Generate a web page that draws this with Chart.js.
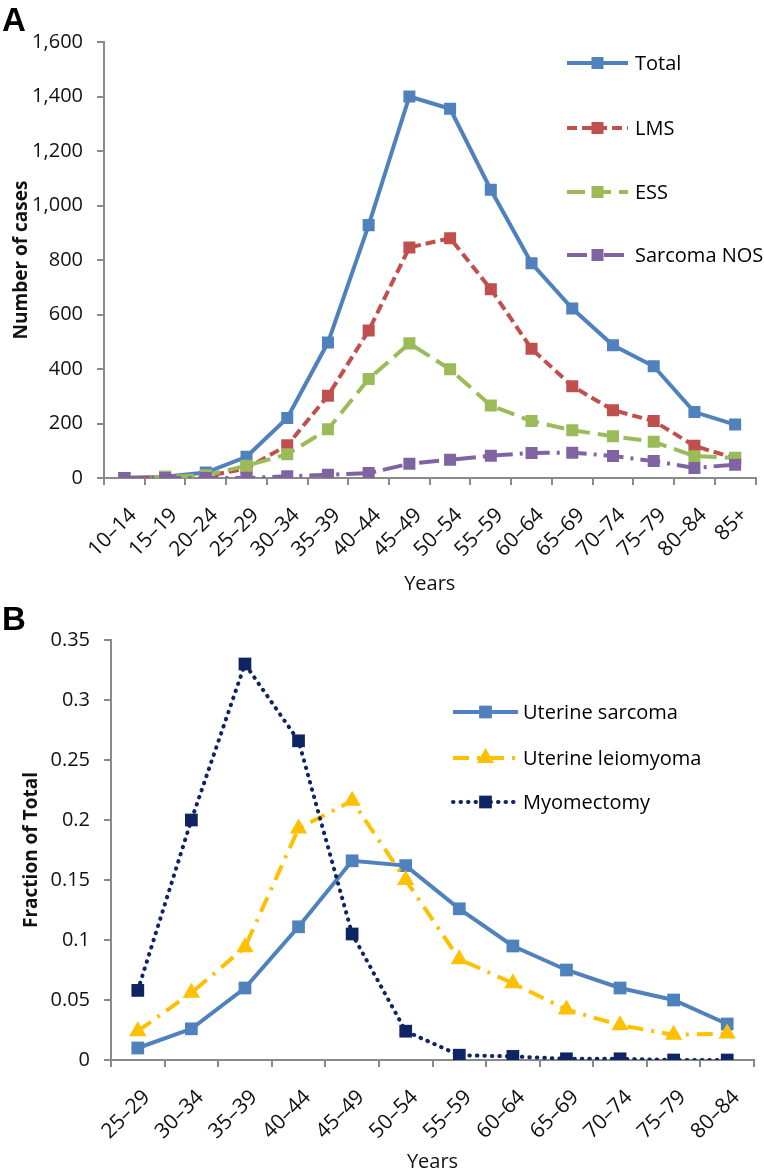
<!DOCTYPE html>
<html>
<head>
<meta charset="utf-8">
<script src="https://cdn.jsdelivr.net/npm/chart.js@4.4.0/dist/chart.umd.min.js"></script>
<style>
  body { margin: 0; background: #fff; }
  canvas { display: block; }
</style>
</head>
<body>
<canvas id="chartA" width="764" height="600"></canvas>
<canvas id="chartB" width="764" height="576"></canvas>
<script>
// panel A: number of cases by age group
const ageGroupsA = ['10–14', '15–19', '20–24', '25–29', '30–34', '35–39', '40–44', '45–49',
  '50–54', '55–59', '60–64', '65–69', '70–74', '75–79', '80–84', '85+'];
const totalCases = [0, 5, 20, 78, 220, 497, 928, 1400, 1355, 1058, 788, 622, 487, 410, 242, 196];
const lmsCases = [0, 2, 6, 35, 120, 302, 541, 846, 880, 693, 474, 337, 249, 209, 118, 72];
const essCases = [0, 4, 10, 45, 87, 179, 363, 494, 399, 266, 209, 175, 153, 133, 80, 74];
const nosCases = [0, 0, 0, 0, 6, 12, 18, 52, 67, 82, 92, 93, 81, 62, 37, 49];
const ticksA = { min: 0, max: 1600, step: 200 };

// panel B: fraction of total by age group
const ageGroupsB = ['25–29', '30–34', '35–39', '40–44', '45–49', '50–54', '55–59', '60–64',
  '65–69', '70–74', '75–79', '80–84'];
const sarcomaFrac = [0.010, 0.026, 0.060, 0.111, 0.166, 0.162, 0.126, 0.095, 0.075, 0.060, 0.050, 0.030];
const leiomyomaFrac = [0.024, 0.056, 0.094, 0.193, 0.216, 0.150, 0.084, 0.064, 0.042, 0.029, 0.021, 0.022];
const myomectomyFrac = [0.058, 0.200, 0.330, 0.266, 0.105, 0.024, 0.004, 0.003, 0.001, 0.001, 0.000, 0.000];
const ticksB = { min: 0, max: 0.35, step: 0.05 };

const AXIS_GREY = '#8a8a8a';
Chart.defaults.font.family = "'Open Sans', sans-serif";
Chart.defaults.font.size = 20;
Chart.defaults.color = '#111';

function marker(ctx, style, x, y, r, color) {
  ctx.fillStyle = color;
  ctx.beginPath();
  if (style === 'triangle') {
    ctx.moveTo(x, y - r);
    ctx.lineTo(x + r * 0.866, y + r * 0.5);
    ctx.lineTo(x - r * 0.866, y + r * 0.5);
    ctx.closePath();
  } else {
    const s = r * Math.SQRT1_2;
    ctx.rect(x - s, y - s, 2 * s, 2 * s);
  }
  ctx.fill();
}

// legend drawn inside the plot, plus the panel letter
const sideLegend = {
  id: 'sideLegend',
  afterDraw(chart, args, opts) {
    const ctx = chart.ctx;
    ctx.save();
    chart.data.datasets.forEach((ds, i) => {
      const y = opts.rows[i];
      ctx.strokeStyle = ds.borderColor;
      ctx.lineWidth = ds.borderWidth;
      ctx.lineCap = ds.borderCapStyle || 'butt';
      ctx.setLineDash(ds.borderDash || []);
      ctx.beginPath();
      ctx.moveTo(opts.x0, y);
      ctx.lineTo(opts.x1, y);
      ctx.stroke();
      ctx.setLineDash([]);
      marker(ctx, ds.pointStyle, (opts.x0 + opts.x1) / 2, y, ds.pointRadius, ds.borderColor);
      ctx.fillStyle = '#000';
      ctx.font = "20px 'Open Sans', sans-serif";
      ctx.textBaseline = 'middle';
      ctx.textAlign = 'left';
      ctx.fillText(ds.label, opts.textX, y + 1);
    });
    ctx.font = "bold 33px 'Liberation Sans', Arial, sans-serif";
    ctx.fillStyle = '#000';
    ctx.textBaseline = 'alphabetic';
    ctx.fillText(opts.panel, 2, opts.panelY);
    ctx.restore();
  }
};

function line(label, data, color, dash, width, style, radius, order, cap) {
  return {
    label, data, order,
    borderColor: color,
    backgroundColor: color,
    borderWidth: width,
    borderDash: dash,
    borderCapStyle: cap || 'butt',
    pointStyle: style,
    pointRadius: radius,
    pointBorderWidth: 0,
    pointBackgroundColor: color,
    tension: 0,
    fill: false
  };
}

function axes(ticks, yTitle, yWidth, xHeight, yTitlePad, fmt) {
  return {
    x: {
      offset: true,
      grid: { offset: true, drawOnChartArea: false, tickLength: 7, color: AXIS_GREY, lineWidth: 2 },
      border: { color: AXIS_GREY, width: 2 },
      ticks: { autoSkip: false, maxRotation: 45, minRotation: 45, padding: 18, labelOffset: 9, font: { size: 21 } },
      title: { display: true, text: 'Years', padding: { top: 4, bottom: 0 } },
      afterFit: s => {
        s.height = xHeight;
        // keep the plot edges fixed; rotated labels should not widen the margins
        s.paddingLeft = 0;
        s.paddingRight = 0;
      }
    },
    y: {
      min: ticks.min, max: ticks.max,
      grid: { drawOnChartArea: false, tickLength: 7, color: AXIS_GREY, lineWidth: 2 },
      border: { color: AXIS_GREY, width: 2 },
      ticks: { stepSize: ticks.step, padding: 14, callback: fmt },
      title: { display: true, text: yTitle, font: { weight: 'bold', size: 19 }, padding: { top: yTitlePad, bottom: 0 } },
      afterFit: s => { s.width = yWidth; }
    }
  };
}

new Chart(document.getElementById('chartA'), {
  type: 'line',
  data: {
    labels: ageGroupsA,
    datasets: [
      line('Total', totalCases, '#4f81bd', [], 4, 'rect', 8.5, 4),
      line('LMS', lmsCases, '#c0504d', [10, 5], 4, 'rect', 8.5, 3),
      line('ESS', essCases, '#9bbb59', [18, 8], 4, 'rect', 8.5, 2),
      line('Sarcoma NOS', nosCases, '#8064a2', [20, 7, 3, 7], 4, 'rect', 8.5, 1)
    ]
  },
  options: {
    responsive: false,
    animation: false,
    layout: { padding: { left: 2, right: 6, top: 42, bottom: 4 } },
    scales: axes(ticksA, 'Number of cases', 102, 118, 8, v => v.toLocaleString('en-US')),
    plugins: {
      legend: { display: false },
      tooltip: { enabled: false },
      sideLegend: { x0: 567, x1: 628, textX: 635, rows: [63, 128, 192, 255], panel: 'A', panelY: 31 }
    }
  },
  plugins: [sideLegend]
});

new Chart(document.getElementById('chartB'), {
  type: 'line',
  data: {
    labels: ageGroupsB,
    datasets: [
      line('Uterine sarcoma', sarcomaFrac, '#4f81bd', [], 4, 'rect', 9, 3),
      line('Uterine leiomyoma', leiomyomaFrac, '#ffc000', [16, 8, 3, 8], 4, 'triangle', 10, 2),
      line('Myomectomy', myomectomyFrac, '#0f2462', [0.5, 7], 4, 'rect', 9, 1, 'round')
    ]
  },
  options: {
    responsive: false,
    animation: false,
    layout: { padding: { left: 12, right: 6, top: 40, bottom: 2 } },
    scales: axes(ticksB, 'Fraction of Total', 99, 114, 8, v => String(parseFloat(v.toFixed(2)))),
    plugins: {
      legend: { display: false },
      tooltip: { enabled: false },
      sideLegend: { x0: 453, x1: 518, textX: 523, rows: [112, 158, 202], panel: 'B', panelY: 30 }
    }
  },
  plugins: [sideLegend]
});
</script>
</body>
</html>
